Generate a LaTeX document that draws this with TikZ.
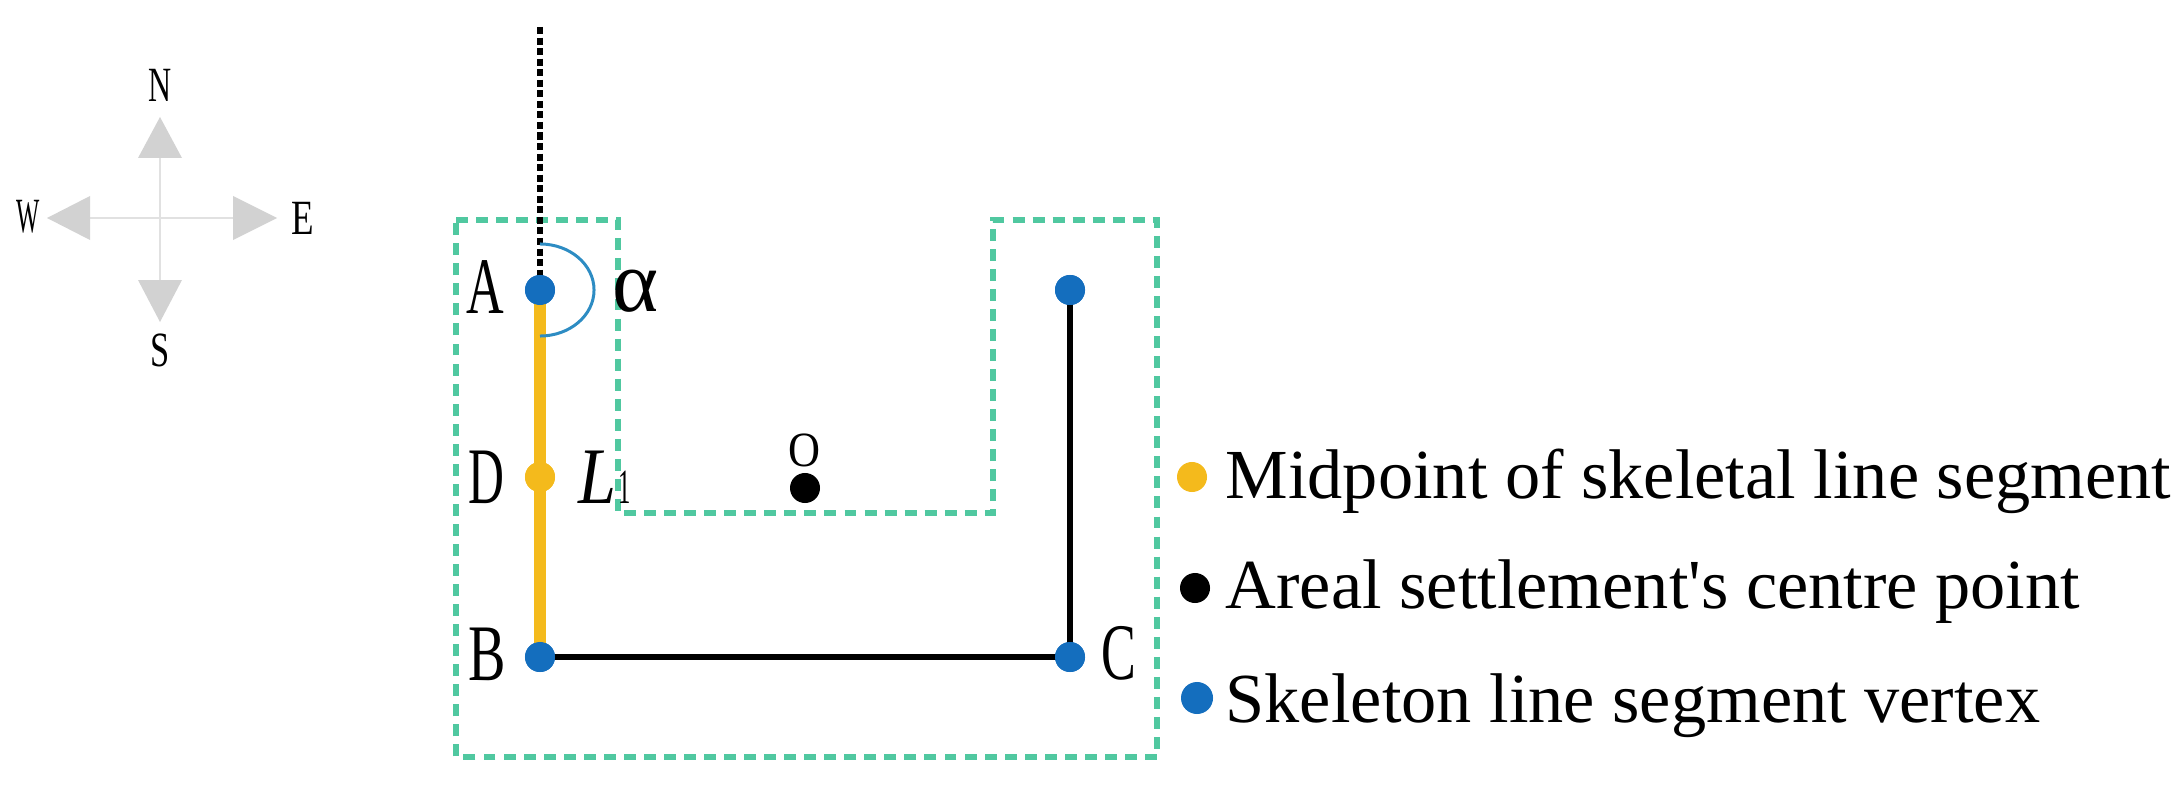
\documentclass[tikz,border=0pt]{standalone}
\usepackage{fontspec}
\setmainfont{Liberation Serif}
\definecolor{ygold}{RGB}{244,186,28}
\definecolor{vblue}{RGB}{20,110,190}
\definecolor{mint}{RGB}{80,200,160}
\definecolor{arcblue}{RGB}{45,140,195}
\definecolor{cgrey}{RGB}{210,210,210}
\definecolor{cline}{RGB}{225,225,225}
\newcommand{\sq}[2]{\scalebox{#1}[1]{#2}}
\begin{document}
\begin{tikzpicture}[x=0.01cm,y=-0.01cm,
  dotnode/.style={circle,inner sep=0pt,minimum size=0.3cm},
  vtx/.style={dotnode,fill=vblue},
  midpt/.style={dotnode,fill=ygold},
  ctr/.style={dotnode,fill=black},
  lab/.style={inner sep=0pt,font=\fontsize{22.8}{24}\selectfont},
  smalllab/.style={inner sep=0pt,font=\fontsize{14}{16}\selectfont},
  leg/.style={inner sep=0pt,anchor=base west,font=\fontsize{20}{22}\selectfont},
  outline/.style={draw=mint,line width=1.7pt,dash pattern=on 3.4pt off 2.3pt},
  skel/.style={line width=1.9pt},
  goldline/.style={draw=ygold,line width=3.4pt},
  northline/.style={line width=1.8pt,dash pattern=on 2pt off 1pt},
  compassline/.style={draw=cline,line width=0.6pt},
  compasshead/.style={fill=cgrey}]
\useasboundingbox (0,0) rectangle (2179,785);

% compass
\coordinate (cc) at (160,218);
\draw[compassline] (160,158) -- (160,280);
\draw[compassline] (90,218) -- (233,218);
\fill[compasshead] (160,117) -- (138,158) -- (182,158) -- cycle;
\fill[compasshead] (160,322) -- (138,280) -- (182,280) -- cycle;
\fill[compasshead] (47,218) -- (90,196) -- (90,240) -- cycle;
\fill[compasshead] (277,218) -- (233,196) -- (233,240) -- cycle;
\node[smalllab] (cN) at (160,85) {\sq{0.65}{N}};
\node[smalllab] (cS) at (160,350) {\sq{0.7}{S}};
\node[smalllab] (cE) at (303,218) {\sq{0.75}{E}};
\node[smalllab] (cW) at (28,217) {\sq{0.5}{W}};

% outline
\draw[outline] (456,220) -- (618,220) -- (618,513) -- (993,513) -- (993,220)
  -- (1157,220) -- (1157,757) -- (456,757) -- cycle;

% nodes
\node[vtx] (A) at (540,290) {};
\node[midpt] (D) at (540,477) {};
\node[vtx] (B) at (540,657) {};
\node[vtx] (C) at (1070,657) {};
\node[vtx] (E) at (1070,290) {};
\node[ctr] (O) at (805,488) {};
\coordinate (top) at (540,27);

% skeleton
\draw[goldline] (A.center) -- (B.center);
\draw[skel] (B.center) -- (C.center) -- (E.center);
\draw[northline] (top) -- (A.center);
\draw[arcblue,line width=0.85pt] ([yshift=0.46cm]A.center) arc[start angle=90,end angle=-90,x radius=0.54cm,y radius=0.46cm];
\node[vtx] at (A) {};
\node[midpt] at (D) {};
\node[vtx] at (B) {};
\node[vtx] at (C) {};
\node[vtx] at (E) {};

% labels
\node[lab] (lA) at (485,287) {\sq{0.65}{A}};
\node[lab] (lD) at (486,477) {\sq{0.62}{D}};
\node[lab] (lB) at (487,654) {\sq{0.7}{B}};
\node[lab] (lC) at (1119,653) {\sq{0.65}{C}};
\node[lab,anchor=base west] (lL) at (578,503) {\sq{0.85}{\itshape L}\hspace{0.02cm}\fontsize{14}{16}\selectfont\sq{0.5}{1}};
\node[inner sep=0pt,font=\fontsize{25}{27}\selectfont] (lalpha) at (636,291) {α};
\node[smalllab] (lO) at (804,450) {\sq{0.9}{O}};

% legend
\node[midpt] (k1) at (1192,477) {};
\node[ctr] (k2) at (1195,588) {};
\node[vtx,minimum size=0.32cm] (k3) at (1197,698) {};
\node[leg] (t1) at (1225,498) {Midpoint of skeletal line segment};
\node[leg] (t2) at (1225,608) {Areal settlement\textquotesingle s centre point};
\node[leg] (t3) at (1225,722) {Skeleton line segment vertex};
\end{tikzpicture}
\end{document}
